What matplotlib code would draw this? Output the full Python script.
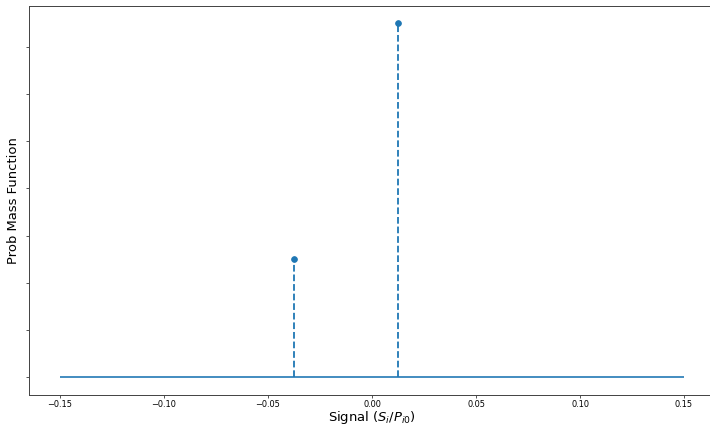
import matplotlib
matplotlib.use("Agg")
import matplotlib.pyplot as plt

# Data
signal_values = [-0.0375, 0.0125]
pmf_values = [0.25, 0.75]
x_range = [-0.15, 0.15]
x_ticks = [-0.15, -0.10, -0.05, 0.00, 0.05, 0.10, 0.15]

dpi = 710 / 12
fig = plt.figure(figsize=(12, 425 / dpi), dpi=dpi)
ax = fig.add_axes([28.8 / 710, 1 - 394.7 / 425, 686.4 / 710, (394.7 - 5.8) / 425])

markerline, stemlines, baseline = ax.stem(signal_values, pmf_values,
                                          linefmt='C0--', markerfmt='C0o', basefmt=' ')
stemlines.set_linewidth(2.2)
markerline.set_markersize(7)
ax.hlines(0, x_range[0], x_range[1], color='C0', lw=2.0)

ax.set_xticks(x_ticks)
ax.set_xticklabels([f"{t:.2f}".replace("-", "\u2212") for t in x_ticks])
ax.set_yticks([0.0, 0.1, 0.2, 0.3, 0.4, 0.5, 0.6, 0.7])
ax.set_yticklabels([])
ax.set_xlabel(r"Signal ($S_i/P_{i0}$)", fontsize=16, labelpad=-0.5)
ax.set_ylabel("Prob Mass Function", fontsize=16)
for s in ax.spines.values():
    s.set_color('#444444')
    s.set_linewidth(1.2)

fig.savefig("out.png", dpi=dpi)
